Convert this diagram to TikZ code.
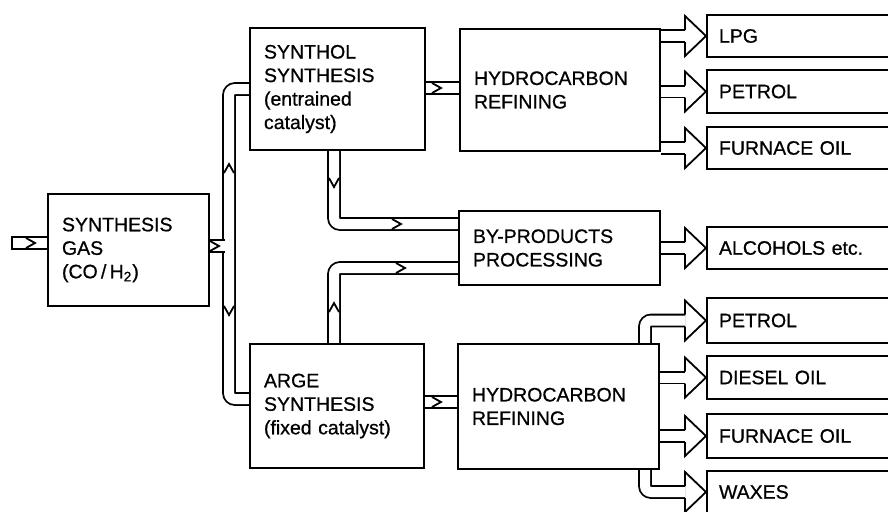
\documentclass[tikz,border=0pt]{standalone}
\usepackage{fontspec}
\setmainfont{Liberation Sans}[FakeBold=0.7]
\usetikzlibrary{backgrounds}
\tikzset{
  pipe/.style={line width=0.9pt, double=white, double distance=5pt, rounded corners=3pt},
  wall/.style={line width=0.9pt},
  procbox/.style={draw, fill=white, line width=1pt, anchor=north west, inner xsep=7pt,
    inner ysep=0pt, align=left, font=\fontsize{9.75}{11.75}\selectfont},
  outbox/.style={procbox, inner xsep=6pt, minimum width=92pt, text width=80pt},
  chev/.pic={\draw[line width=0.9pt] (0,-5) -- (9,0) -- (0,5);},
  bighead/.pic={\draw[line width=0.9pt, line join=miter] (-21,-6) -- (-21,-20) -- (0,0) -- (-21,20) -- (-21,6);}
}
\begin{document}
\begin{tikzpicture}[x=0.5pt, y=-0.5pt]
\useasboundingbox (0,0) rectangle (888,511);

% process boxes
\node[procbox, minimum width=80.5pt, text width=66.5pt, minimum height=56pt] (sg) at (47,193)
  {SYNTHESIS\\GAS\\(CO\,/\,H\textsubscript{2})};
\node[procbox, minimum width=87.5pt, text width=73.5pt, minimum height=61pt] (synthol) at (249,27)
  {SYNTHOL\\SYNTHESIS\\(entrained\\catalyst)};
\node[procbox, minimum width=100pt, text width=86pt, minimum height=61pt] (hc1) at (459,28)
  {HYDROCARBON\\REFINING};
\node[procbox, minimum width=100.5pt, text width=86.5pt, minimum height=37pt] (bp) at (458,210)
  {BY-PRODUCTS\\PROCESSING};
\node[procbox, minimum width=87pt, text width=73pt, minimum height=62pt] (arge) at (249,343)
  {ARGE\\SYNTHESIS\\(fixed catalyst)};
\node[procbox, minimum width=100.5pt, text width=86.5pt, minimum height=62.5pt] (hc2) at (457,343)
  {HYDROCARBON\\REFINING};

% product boxes
\node[outbox, minimum height=21pt] (lpg) at (706,14) {LPG};
\node[outbox, minimum height=21.5pt] (petrolA) at (706,69) {PETROL};
\node[outbox, minimum height=21pt] (furnA) at (706,126) {FURNACE OIL};
\node[outbox, minimum height=21pt] (alc) at (706,226) {ALCOHOLS etc.};
\node[outbox, minimum height=22.5pt] (petrolB) at (706,297) {PETROL};
\node[outbox, minimum height=21.5pt] (diesel) at (706,355) {DIESEL OIL};
\node[outbox, minimum height=22pt] (furnB) at (706,413) {FURNACE OIL};
\node[outbox, minimum height=21pt] (waxes) at (706,470) {WAXES};

% helper coordinates
\coordinate (inlet) at (12,243);
\coordinate (vj) at (225,246);
\coordinate (vt) at (229,89);
\coordinate (vb) at (229,399);
\coordinate (sb) at (334,224);
\coordinate (atop) at (334,268);
\coordinate (s1) at (430,88);
\coordinate (a1) at (430,402);
\coordinate (pc) at (645,0);

\begin{scope}[on background layer]
  \fill[white] (0,0) rectangle (888,511);
  % feed
  \draw[pipe] (inlet) -- (sg.west |- inlet);
  \draw[wall] ([yshift=3.4pt]inlet) -- ([yshift=-3.4pt]inlet);
  % vertical distributor
  \draw[pipe] (synthol.west |- vt) -- (vt) -- (vb) -- (arge.west |- vb);
  \draw[pipe] (sg.east |- vj) -- (vj);
  % to by-products
  \draw[pipe] (synthol.south -| sb) -- (sb) -- (bp.west |- sb);
  \draw[pipe] (arge.north -| atop) -- (atop) -- (bp.west |- atop);
  % to refining
  \draw[pipe] (synthol.east |- s1) -- (hc1.west |- s1);
  \draw[pipe] (arge.east |- a1) -- (hc2.west |- a1);
  % product shafts
  \draw[pipe] (hc1.east |- lpg.west) -- ([xshift=-10.5pt]lpg.west);
  \draw[pipe] (hc1.east |- petrolA.west) -- ([xshift=-10.5pt]petrolA.west);
  \draw[pipe] (hc1.east |- furnA.west) -- ([xshift=-10.5pt]furnA.west);
  \draw[pipe] (bp.east |- alc.west) -- ([xshift=-10.5pt]alc.west);
  \draw[pipe] (hc2.north -| pc) |- ([xshift=-10.5pt]petrolB.west);
  \draw[pipe] (hc2.east |- diesel.west) -- ([xshift=-10.5pt]diesel.west);
  \draw[pipe] (hc2.east |- furnB.west) -- ([xshift=-10.5pt]furnB.west);
  \draw[pipe] (hc2.south -| pc) |- ([xshift=-10.5pt]waxes.west);
  % flow markers
  \pic at (26,243) {chev};
  \pic at (210,246) {chev};
  \pic[rotate=90] at (229,173) {chev};
  \pic[rotate=-90] at (229,306) {chev};
  \pic[rotate=-90] at (334,178) {chev};
  \pic at (392,224) {chev};
  \pic[rotate=90] at (334,312) {chev};
  \pic at (396,268) {chev};
  \pic at (432,88) {chev};
  \pic at (432,402) {chev};
\end{scope}

% big hollow arrow heads
\pic at (lpg.west) {bighead};
\pic at (petrolA.west) {bighead};
\pic at (furnA.west) {bighead};
\pic at (alc.west) {bighead};
\pic at (petrolB.west) {bighead};
\pic at (diesel.west) {bighead};
\pic at (furnB.west) {bighead};
\pic at (waxes.west) {bighead};
\end{tikzpicture}
\end{document}
